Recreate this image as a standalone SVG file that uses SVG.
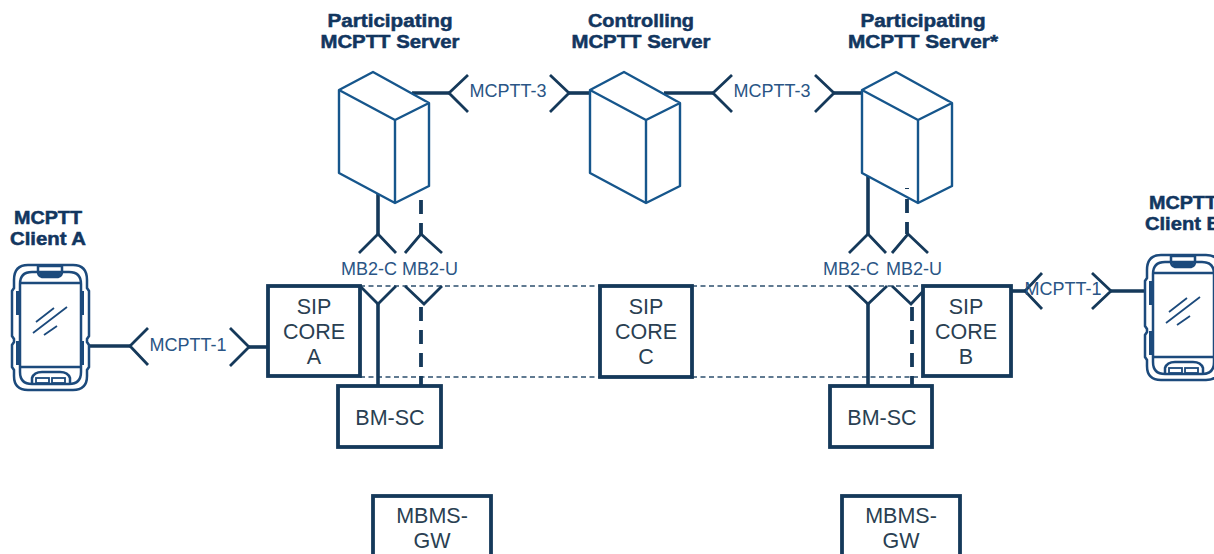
<svg xmlns="http://www.w3.org/2000/svg" width="1214" height="554" viewBox="0 0 1214 554">
<style>
text{font-family:"Liberation Sans",Arial,sans-serif;text-anchor:middle}
.t{font-weight:bold;font-size:17.5px;fill:#12365f;stroke:#12365f;stroke-width:.5}
.l{font-size:18px;fill:#2a5585}
.b{font-size:21.5px;fill:#2a3f52}
.box{fill:#fff;stroke:#15395a;stroke-width:3.8}
.c{fill:none;stroke:#15395a;stroke-width:3.6}
.y{fill:none;stroke:#15395a;stroke-width:2.8}
.d{fill:none;stroke:#15395a;stroke-width:3.8;stroke-dasharray:14 9}
.dl{fill:none;stroke:#2d4f6e;stroke-width:1.6;stroke-dasharray:5 3.5}
.cube{fill:#fff;stroke:#16568c;stroke-width:2.4;stroke-linejoin:round}
.p{fill:none;stroke:#1c4a7c;stroke-width:2.5}
.pt{fill:none;stroke:#1c4a7c;stroke-width:1.8}
.pf{fill:#1c4a7c;stroke:none}
</style>
<defs>
<g id="cube">
<path class="cube" d="M339 90L373 72L429 103V186L395 203L339 173Z"/>
<path class="cube" d="M339 90L395 120L429 103M395 120V203"/>
</g>
<g id="phone">
<path class="p" d="M28 265H73Q87 265 87 280V288L89 291V336L87 339V342L89 345V367L87 370V376Q87 390 73 390H28Q14 390 14 376V370L12 367V345L14 342V339L12 336V291L14 288V280Q14 265 28 265Z"/>
<path class="p" d="M32 272H69Q81 272 81 284V372Q81 384 69 384H32Q20 384 20 372V284Q20 272 32 272Z"/>
<path class="p" d="M21 283H80M21 367H80"/>
<path class="p" d="M38 266H62V272Q62 276 58 277H42Q38 276 38 272Z"/>
<path class="pf" d="M39 272H61Q61 277 57 277H43Q39 277 39 272Z"/>
<path class="p" d="M32 384V378Q34 372 42 372H60Q68 372 70 378V384"/>
<rect class="pt" x="36" y="378" width="13" height="5"/>
<rect class="pt" x="52" y="378" width="13" height="5"/>
<rect class="pf" x="16" y="291" width="4" height="24"/>
<rect class="pf" x="16" y="341" width="4" height="24"/>
<rect class="pf" x="80" y="291" width="4" height="24"/>
<rect class="pf" x="80" y="341" width="4" height="24"/>
<path class="pt" d="M36 322L54 308M33 333L67 307M44 335L57 326"/>
</g>
</defs>

<g id="connectors">
<path class="dl" d="M360 286H600M692 286H923M360 377H600M692 377H923"/>
<path class="c" d="M412 93H449"/><path class="y" d="M468 75L449 93L468 112"/>
<path class="c" d="M569 93H590"/><path class="y" d="M550 75L569 93L550 112"/>
<path class="c" d="M664 93H713"/><path class="y" d="M732 75L713 93L732 112"/>
<path class="c" d="M834 93H862"/><path class="y" d="M815 75L834 93L815 112"/>
<path class="c" d="M378 190V234"/><path class="y" d="M359 253L378 234L396 253"/>
<path class="d" d="M421 200V234"/><path class="y" d="M405 253L421 234L442 253"/>
<path class="y" d="M360 286L378 304L396 286"/><path class="c" d="M378 304V386"/>
<path class="y" d="M405 286L424 304L442 286"/><path class="d" d="M421 307V386"/>
<path class="c" d="M868 170V234"/><path class="y" d="M849 253L868 234L886 253"/>
<path class="d" d="M907 199V234"/><path class="y" d="M892 253L908 234L928 253"/>
<path class="y" d="M849 286L868 304L887 286"/><path class="c" d="M868 304V386"/>
<path class="y" d="M892 286L911 304L928 286"/><path class="d" d="M912 307V386"/>
<path class="c" d="M88 346H130"/><path class="y" d="M148 328L130 346L148 365"/>
<path class="c" d="M249 347H268"/><path class="y" d="M230 328L249 347L230 366"/>
<path class="c" d="M1011 291H1025"/><path class="y" d="M1042 273L1025 291L1042 309"/>
<path class="c" d="M1111 291H1146"/><path class="y" d="M1092 273L1111 291L1092 309"/>
</g>

<g id="server-a"><use href="#cube"/>
<text class="t" x="390" y="27" textLength="125" lengthAdjust="spacingAndGlyphs">Participating</text>
<text class="t" x="390" y="48" textLength="139" lengthAdjust="spacingAndGlyphs">MCPTT Server</text></g>
<g id="server-c"><use href="#cube" x="251"/>
<text class="t" x="641" y="27" textLength="106" lengthAdjust="spacingAndGlyphs">Controlling</text>
<text class="t" x="641" y="48" textLength="139" lengthAdjust="spacingAndGlyphs">MCPTT Server</text></g>
<g id="server-b"><use href="#cube" x="523"/>
<path d="M905 188.500H909" stroke="#15395a" stroke-width="1" fill="none"/>
<text class="t" x="923" y="27" textLength="125" lengthAdjust="spacingAndGlyphs">Participating</text>
<text class="t" x="923" y="48" textLength="150" lengthAdjust="spacingAndGlyphs">MCPTT Server*</text></g>

<g id="client-a"><use href="#phone"/>
<text class="t" x="48" y="224" textLength="68" lengthAdjust="spacingAndGlyphs">MCPTT</text>
<text class="t" x="48" y="245" textLength="76" lengthAdjust="spacingAndGlyphs">Client A</text></g>
<g id="client-b"><use href="#phone" x="1133" y="-10"/>
<text class="t" x="1183" y="209" textLength="68" lengthAdjust="spacingAndGlyphs">MCPTT</text>
<text class="t" x="1183" y="230" textLength="76" lengthAdjust="spacingAndGlyphs">Client B</text></g>

<g id="sip-a"><rect class="box" x="268" y="286" width="92" height="90"/>
<text class="b" x="314" y="314">SIP</text><text class="b" x="314" y="339">CORE</text><text class="b" x="314" y="364">A</text></g>
<g id="sip-c"><rect class="box" x="600" y="286" width="92" height="91"/>
<text class="b" x="646" y="314">SIP</text><text class="b" x="646" y="339">CORE</text><text class="b" x="646" y="364">C</text></g>
<g id="sip-b"><rect class="box" x="923" y="286" width="88" height="90"/>
<text class="b" x="966" y="314">SIP</text><text class="b" x="966" y="339">CORE</text><text class="b" x="966" y="364">B</text></g>

<g id="bmsc-a"><rect class="box" x="338" y="386" width="103" height="61"/><text class="b" x="390" y="425">BM-SC</text></g>
<g id="bmsc-b"><rect class="box" x="830" y="386" width="102" height="61"/><text class="b" x="882" y="425">BM-SC</text></g>
<g id="mbms-a"><rect class="box" x="373" y="496" width="118" height="70"/><text class="b" x="432" y="523">MBMS-</text><text class="b" x="432" y="548">GW</text></g>
<g id="mbms-b"><rect class="box" x="842" y="496" width="118" height="70"/><text class="b" x="901" y="523">MBMS-</text><text class="b" x="901" y="548">GW</text></g>

<g id="labels">
<text class="l" x="508" y="97">MCPTT-3</text>
<text class="l" x="772" y="97">MCPTT-3</text>
<text class="l" x="188" y="351">MCPTT-1</text>
<text class="l" x="1063" y="295">MCPTT-1</text>
<text class="l" x="369" y="275">MB2-C</text>
<text class="l" x="430" y="275">MB2-U</text>
<text class="l" x="851" y="275">MB2-C</text>
<text class="l" x="914" y="275">MB2-U</text>
</g>
</svg>
